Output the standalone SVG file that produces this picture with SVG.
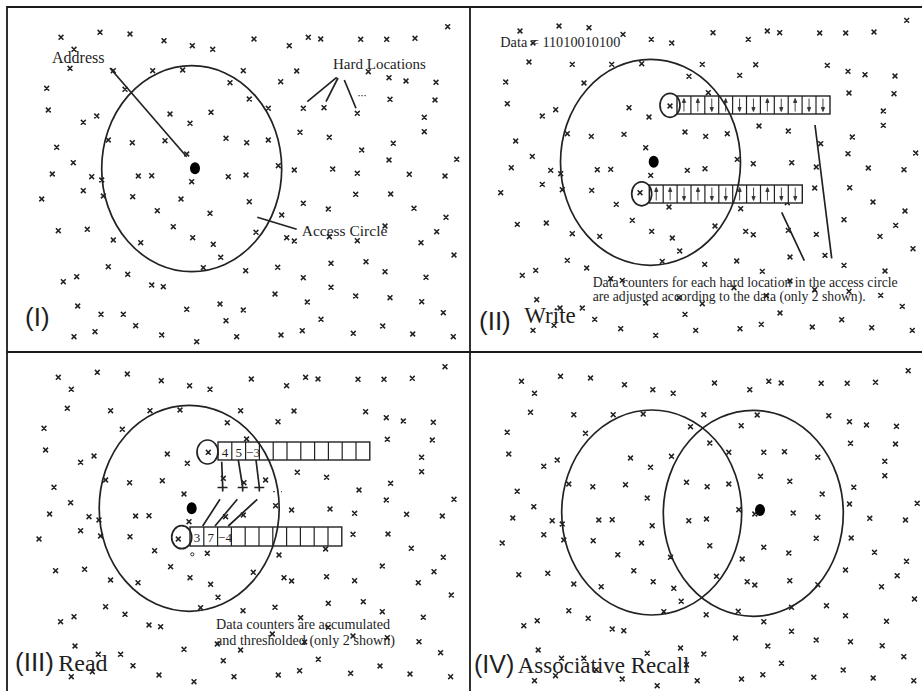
<svg xmlns="http://www.w3.org/2000/svg" xmlns:xlink="http://www.w3.org/1999/xlink" width="922" height="691" viewBox="0 0 922 691">
<style>
.ln{fill:none;stroke:#222;stroke-width:1.7}
.xs{fill:none;stroke:#222;stroke-width:1.5}
.bar{fill:#fff;stroke:#222;stroke-width:1.4}
.dv{fill:none;stroke:#222;stroke-width:1.2}
.frame{fill:none;stroke:#1a1a1a;stroke-width:1.8}
.dot{fill:#000}
.ar{stroke:#333;stroke-width:0.9;fill:#333}
.serif{font-family:"Liberation Serif","Times New Roman",serif;fill:#1e1e1e}
.sans{font-family:"Liberation Sans",Arial,sans-serif;fill:#1e1e1e}
</style>
<defs>
<path id="pts" class="xs" d="M61 37.3m-2.4-2.4l4.8 4.8m0-4.8l-4.8 4.8M100 32.3m-2.4-2.4l4.8 4.8m0-4.8l-4.8 4.8M130 34m-2.4-2.4l4.8 4.8m0-4.8l-4.8 4.8M164 40.7m-2.4-2.4l4.8 4.8m0-4.8l-4.8 4.8M192.3 45.7m-2.4-2.4l4.8 4.8m0-4.8l-4.8 4.8M212.7 49.3m-2.4-2.4l4.8 4.8m0-4.8l-4.8 4.8M254 39m-2.4-2.4l4.8 4.8m0-4.8l-4.8 4.8M289.3 45.7m-2.4-2.4l4.8 4.8m0-4.8l-4.8 4.8M308.3 37.3m-2.4-2.4l4.8 4.8m0-4.8l-4.8 4.8M320.7 39m-2.4-2.4l4.8 4.8m0-4.8l-4.8 4.8M360.7 39.3m-2.4-2.4l4.8 4.8m0-4.8l-4.8 4.8M386.7 39.3m-2.4-2.4l4.8 4.8m0-4.8l-4.8 4.8M415 38.3m-2.4-2.4l4.8 4.8m0-4.8l-4.8 4.8M447.7 26.7m-2.4-2.4l4.8 4.8m0-4.8l-4.8 4.8M74 49.3m-2.4-2.4l4.8 4.8m0-4.8l-4.8 4.8M70 68.3m-2.4-2.4l4.8 4.8m0-4.8l-4.8 4.8M113.3 70.7m-2.4-2.4l4.8 4.8m0-4.8l-4.8 4.8M152.7 70.7m-2.4-2.4l4.8 4.8m0-4.8l-4.8 4.8M182.7 70m-2.4-2.4l4.8 4.8m0-4.8l-4.8 4.8M243.3 70.7m-2.4-2.4l4.8 4.8m0-4.8l-4.8 4.8M296.7 71m-2.4-2.4l4.8 4.8m0-4.8l-4.8 4.8M368.3 71.7m-2.4-2.4l4.8 4.8m0-4.8l-4.8 4.8M389 77.7m-2.4-2.4l4.8 4.8m0-4.8l-4.8 4.8M406 81m-2.4-2.4l4.8 4.8m0-4.8l-4.8 4.8M436 82.3m-2.4-2.4l4.8 4.8m0-4.8l-4.8 4.8M46.7 88.3m-2.4-2.4l4.8 4.8m0-4.8l-4.8 4.8M125 89.3m-2.4-2.4l4.8 4.8m0-4.8l-4.8 4.8M230 82.7m-2.4-2.4l4.8 4.8m0-4.8l-4.8 4.8M280.7 81.7m-2.4-2.4l4.8 4.8m0-4.8l-4.8 4.8M48.3 110m-2.4-2.4l4.8 4.8m0-4.8l-4.8 4.8M83.3 122.3m-2.4-2.4l4.8 4.8m0-4.8l-4.8 4.8M96.7 116m-2.4-2.4l4.8 4.8m0-4.8l-4.8 4.8M170 114m-2.4-2.4l4.8 4.8m0-4.8l-4.8 4.8M190 123.3m-2.4-2.4l4.8 4.8m0-4.8l-4.8 4.8M211 112.3m-2.4-2.4l4.8 4.8m0-4.8l-4.8 4.8M249.3 99m-2.4-2.4l4.8 4.8m0-4.8l-4.8 4.8M268.3 108.3m-2.4-2.4l4.8 4.8m0-4.8l-4.8 4.8M303.3 108.3m-2.4-2.4l4.8 4.8m0-4.8l-4.8 4.8M324 107.7m-2.4-2.4l4.8 4.8m0-4.8l-4.8 4.8M357.3 113.3m-2.4-2.4l4.8 4.8m0-4.8l-4.8 4.8M390 99.3m-2.4-2.4l4.8 4.8m0-4.8l-4.8 4.8M435 100m-2.4-2.4l4.8 4.8m0-4.8l-4.8 4.8M424.3 117.3m-2.4-2.4l4.8 4.8m0-4.8l-4.8 4.8M424.3 131.7m-2.4-2.4l4.8 4.8m0-4.8l-4.8 4.8M56.7 147.3m-2.4-2.4l4.8 4.8m0-4.8l-4.8 4.8M108.3 140m-2.4-2.4l4.8 4.8m0-4.8l-4.8 4.8M132.3 142.7m-2.4-2.4l4.8 4.8m0-4.8l-4.8 4.8M165 140.7m-2.4-2.4l4.8 4.8m0-4.8l-4.8 4.8M226 138.3m-2.4-2.4l4.8 4.8m0-4.8l-4.8 4.8M246.7 142.7m-2.4-2.4l4.8 4.8m0-4.8l-4.8 4.8M268.3 140m-2.4-2.4l4.8 4.8m0-4.8l-4.8 4.8M300 132.3m-2.4-2.4l4.8 4.8m0-4.8l-4.8 4.8M329.3 137.3m-2.4-2.4l4.8 4.8m0-4.8l-4.8 4.8M361.7 150m-2.4-2.4l4.8 4.8m0-4.8l-4.8 4.8M393.3 143.3m-2.4-2.4l4.8 4.8m0-4.8l-4.8 4.8M73.3 162.7m-2.4-2.4l4.8 4.8m0-4.8l-4.8 4.8M186.7 154m-2.4-2.4l4.8 4.8m0-4.8l-4.8 4.8M278.3 165.7m-2.4-2.4l4.8 4.8m0-4.8l-4.8 4.8M294.3 170m-2.4-2.4l4.8 4.8m0-4.8l-4.8 4.8M332.7 169m-2.4-2.4l4.8 4.8m0-4.8l-4.8 4.8M389 160m-2.4-2.4l4.8 4.8m0-4.8l-4.8 4.8M456.7 159.3m-2.4-2.4l4.8 4.8m0-4.8l-4.8 4.8M52.3 174m-2.4-2.4l4.8 4.8m0-4.8l-4.8 4.8M91.7 176.7m-2.4-2.4l4.8 4.8m0-4.8l-4.8 4.8M101.7 180m-2.4-2.4l4.8 4.8m0-4.8l-4.8 4.8M138.3 176m-2.4-2.4l4.8 4.8m0-4.8l-4.8 4.8M151.7 175.7m-2.4-2.4l4.8 4.8m0-4.8l-4.8 4.8M191.7 181.7m-2.4-2.4l4.8 4.8m0-4.8l-4.8 4.8M228.3 176.7m-2.4-2.4l4.8 4.8m0-4.8l-4.8 4.8M246 175m-2.4-2.4l4.8 4.8m0-4.8l-4.8 4.8M357.3 173.3m-2.4-2.4l4.8 4.8m0-4.8l-4.8 4.8M409.3 174.3m-2.4-2.4l4.8 4.8m0-4.8l-4.8 4.8M445 176m-2.4-2.4l4.8 4.8m0-4.8l-4.8 4.8M41.7 199m-2.4-2.4l4.8 4.8m0-4.8l-4.8 4.8M83.3 190.7m-2.4-2.4l4.8 4.8m0-4.8l-4.8 4.8M103.3 196m-2.4-2.4l4.8 4.8m0-4.8l-4.8 4.8M132.7 196.7m-2.4-2.4l4.8 4.8m0-4.8l-4.8 4.8M181 199m-2.4-2.4l4.8 4.8m0-4.8l-4.8 4.8M249.3 201.7m-2.4-2.4l4.8 4.8m0-4.8l-4.8 4.8M355.7 194.3m-2.4-2.4l4.8 4.8m0-4.8l-4.8 4.8M390.7 194m-2.4-2.4l4.8 4.8m0-4.8l-4.8 4.8M157.3 210.7m-2.4-2.4l4.8 4.8m0-4.8l-4.8 4.8M210 213.3m-2.4-2.4l4.8 4.8m0-4.8l-4.8 4.8M281.7 215m-2.4-2.4l4.8 4.8m0-4.8l-4.8 4.8M303.3 203.3m-2.4-2.4l4.8 4.8m0-4.8l-4.8 4.8M328.3 209m-2.4-2.4l4.8 4.8m0-4.8l-4.8 4.8M414 208.3m-2.4-2.4l4.8 4.8m0-4.8l-4.8 4.8M446 217.3m-2.4-2.4l4.8 4.8m0-4.8l-4.8 4.8M58.3 230.7m-2.4-2.4l4.8 4.8m0-4.8l-4.8 4.8M87.3 229.3m-2.4-2.4l4.8 4.8m0-4.8l-4.8 4.8M173.3 226.7m-2.4-2.4l4.8 4.8m0-4.8l-4.8 4.8M192.7 237.7m-2.4-2.4l4.8 4.8m0-4.8l-4.8 4.8M213.3 244.3m-2.4-2.4l4.8 4.8m0-4.8l-4.8 4.8M256 232.3m-2.4-2.4l4.8 4.8m0-4.8l-4.8 4.8M286.7 237.7m-2.4-2.4l4.8 4.8m0-4.8l-4.8 4.8M294.3 241m-2.4-2.4l4.8 4.8m0-4.8l-4.8 4.8M329.3 236.7m-2.4-2.4l4.8 4.8m0-4.8l-4.8 4.8M357.3 240.7m-2.4-2.4l4.8 4.8m0-4.8l-4.8 4.8M385 226m-2.4-2.4l4.8 4.8m0-4.8l-4.8 4.8M421 242.7m-2.4-2.4l4.8 4.8m0-4.8l-4.8 4.8M436.7 231.7m-2.4-2.4l4.8 4.8m0-4.8l-4.8 4.8M113.3 240m-2.4-2.4l4.8 4.8m0-4.8l-4.8 4.8M140.7 242.7m-2.4-2.4l4.8 4.8m0-4.8l-4.8 4.8M220.7 257.3m-2.4-2.4l4.8 4.8m0-4.8l-4.8 4.8M454 255m-2.4-2.4l4.8 4.8m0-4.8l-4.8 4.8M108.3 266.7m-2.4-2.4l4.8 4.8m0-4.8l-4.8 4.8M127.7 274.3m-2.4-2.4l4.8 4.8m0-4.8l-4.8 4.8M203.3 267.7m-2.4-2.4l4.8 4.8m0-4.8l-4.8 4.8M245.7 270.7m-2.4-2.4l4.8 4.8m0-4.8l-4.8 4.8M277.7 267.3m-2.4-2.4l4.8 4.8m0-4.8l-4.8 4.8M331 263.3m-2.4-2.4l4.8 4.8m0-4.8l-4.8 4.8M366 261.7m-2.4-2.4l4.8 4.8m0-4.8l-4.8 4.8M385 271.7m-2.4-2.4l4.8 4.8m0-4.8l-4.8 4.8M426 277.3m-2.4-2.4l4.8 4.8m0-4.8l-4.8 4.8M63.3 281.7m-2.4-2.4l4.8 4.8m0-4.8l-4.8 4.8M76.7 276.7m-2.4-2.4l4.8 4.8m0-4.8l-4.8 4.8M151.7 285m-2.4-2.4l4.8 4.8m0-4.8l-4.8 4.8M163.3 286.7m-2.4-2.4l4.8 4.8m0-4.8l-4.8 4.8M303.3 277.7m-2.4-2.4l4.8 4.8m0-4.8l-4.8 4.8M331 287.3m-2.4-2.4l4.8 4.8m0-4.8l-4.8 4.8M275 294m-2.4-2.4l4.8 4.8m0-4.8l-4.8 4.8M355.7 296m-2.4-2.4l4.8 4.8m0-4.8l-4.8 4.8M390 297.7m-2.4-2.4l4.8 4.8m0-4.8l-4.8 4.8M421.7 301.7m-2.4-2.4l4.8 4.8m0-4.8l-4.8 4.8M307.3 302m-2.4-2.4l4.8 4.8m0-4.8l-4.8 4.8M77.7 306m-2.4-2.4l4.8 4.8m0-4.8l-4.8 4.8M101 314.3m-2.4-2.4l4.8 4.8m0-4.8l-4.8 4.8M123.3 314.3m-2.4-2.4l4.8 4.8m0-4.8l-4.8 4.8M135.7 325.7m-2.4-2.4l4.8 4.8m0-4.8l-4.8 4.8M186.7 309.3m-2.4-2.4l4.8 4.8m0-4.8l-4.8 4.8M220 304m-2.4-2.4l4.8 4.8m0-4.8l-4.8 4.8M243.3 310m-2.4-2.4l4.8 4.8m0-4.8l-4.8 4.8M226 320.7m-2.4-2.4l4.8 4.8m0-4.8l-4.8 4.8M321 319.3m-2.4-2.4l4.8 4.8m0-4.8l-4.8 4.8M443.3 312.7m-2.4-2.4l4.8 4.8m0-4.8l-4.8 4.8M74 336.7m-2.4-2.4l4.8 4.8m0-4.8l-4.8 4.8M95 331.7m-2.4-2.4l4.8 4.8m0-4.8l-4.8 4.8M161.7 335m-2.4-2.4l4.8 4.8m0-4.8l-4.8 4.8M196.7 341.7m-2.4-2.4l4.8 4.8m0-4.8l-4.8 4.8M236.7 336.7m-2.4-2.4l4.8 4.8m0-4.8l-4.8 4.8M281 335m-2.4-2.4l4.8 4.8m0-4.8l-4.8 4.8M302.3 330.7m-2.4-2.4l4.8 4.8m0-4.8l-4.8 4.8M353.3 333.3m-2.4-2.4l4.8 4.8m0-4.8l-4.8 4.8M382.7 326m-2.4-2.4l4.8 4.8m0-4.8l-4.8 4.8M412.7 334m-2.4-2.4l4.8 4.8m0-4.8l-4.8 4.8M453.3 336.7m-2.4-2.4l4.8 4.8m0-4.8l-4.8 4.8"/>
<g id="au"><path class="ar" d="M0 6.5V-3"/><path class="ar" d="M-1.6-2.5L0-6.5L1.6-2.5Z"/></g>
<g id="ad"><path class="ar" d="M0-6.5V3"/><path class="ar" d="M-1.6 2.5L0 6.5L1.6 2.5Z"/></g>
<clipPath id="c1"><rect x="7" y="7" width="463" height="345"/></clipPath>
<clipPath id="c2"><rect x="470" y="7" width="452" height="345"/></clipPath>
<clipPath id="c3"><rect x="7" y="352" width="463" height="339"/></clipPath>
<clipPath id="c4"><rect x="470" y="352" width="452" height="339"/></clipPath>
</defs>
<rect width="922" height="691" fill="#fff"/>

<g id="scatter">
<g clip-path="url(#c1)"><use xlink:href="#pts" href="#pts"/></g>
<g clip-path="url(#c2)"><use xlink:href="#pts" href="#pts" transform="translate(459,-6.3)"/></g>
<g clip-path="url(#c3)"><use xlink:href="#pts" href="#pts" transform="translate(-2.7,340)"/></g>
<g clip-path="url(#c4)"><use xlink:href="#pts" href="#pts" transform="translate(460.5,344)"/></g>
</g>

<g id="frame"><path class="frame" d="M7 691V7H922M470 7V691M7 352H922"/></g>

<g id="panel-1">
<ellipse class="ln" cx="191.7" cy="168.7" rx="90" ry="103"/>
<ellipse class="dot" cx="195" cy="168.3" rx="5" ry="6"/>
<text class="serif" x="52" y="63" font-size="16">Address</text>
<text class="serif" x="333" y="69" font-size="15">Hard Locations</text>
<text class="serif" x="301.7" y="235.7" font-size="15.5">Access Circle</text>
<text class="sans" x="25" y="326" font-size="26">(I)</text>
</g>

<g id="panel-2">
<rect class="bar" x="677" y="96" width="153" height="18"/>
<path class="dv" d="M690.9 96v18M704.8 96v18M718.7 96v18M732.6 96v18M746.5 96v18M760.4 96v18M774.3 96v18M788.2 96v18M802.1 96v18M816 96v18"/>
<use href="#au" x="683.95" y="105"/><use href="#au" x="697.85" y="105"/><use href="#ad" x="711.75" y="105"/><use href="#au" x="725.65" y="105"/><use href="#ad" x="739.55" y="105"/><use href="#ad" x="753.45" y="105"/><use href="#au" x="767.35" y="105"/><use href="#ad" x="781.25" y="105"/><use href="#au" x="795.15" y="105"/><use href="#ad" x="809.05" y="105"/><use href="#ad" x="822.95" y="105"/>
<ellipse class="ln" cx="670" cy="105.3" rx="10" ry="12"/>
<rect class="bar" x="649.3" y="185" width="153" height="18"/>
<path class="dv" d="M663.2 185v18M677.1 185v18M691 185v18M704.9 185v18M718.8 185v18M732.7 185v18M746.6 185v18M760.5 185v18M774.4 185v18M788.3 185v18"/>
<use href="#au" x="656.25" y="194"/><use href="#au" x="670.15" y="194"/><use href="#ad" x="684.05" y="194"/><use href="#au" x="697.95" y="194"/><use href="#ad" x="711.85" y="194"/><use href="#ad" x="725.75" y="194"/><use href="#au" x="739.65" y="194"/><use href="#ad" x="753.55" y="194"/><use href="#au" x="767.45" y="194"/><use href="#ad" x="781.35" y="194"/><use href="#ad" x="795.25" y="194"/>
<ellipse class="ln" cx="641.7" cy="193.8" rx="10" ry="12"/>
<ellipse class="ln" cx="650.5" cy="162.3" rx="90" ry="103"/>
<ellipse class="dot" cx="653.7" cy="161.7" rx="5" ry="6"/>
<text class="serif" x="500.3" y="46.7" font-size="14" textLength="120" lengthAdjust="spacingAndGlyphs">Data = 11010010100</text>
<text class="serif" x="592.7" y="286.7" font-size="14" textLength="305" lengthAdjust="spacingAndGlyphs">Data counters for each hard location in the access circle</text>
<text class="serif" x="592.7" y="301" font-size="14" textLength="273" lengthAdjust="spacingAndGlyphs">are adjusted according to the data (only 2 shown).</text>
<text class="sans" x="479" y="330" font-size="26">(II)</text>
<text class="serif" x="524.3" y="322.7" font-size="23">Write</text>
</g>

<g id="panel-3">
<rect class="bar" x="218" y="442" width="151.8" height="18"/>
<path class="dv" d="M231.8 442v18M245.6 442v18M259.4 442v18M273.2 442v18M287 442v18M300.8 442v18M314.6 442v18M328.4 442v18M342.2 442v18M356 442v18"/>
<ellipse class="ln" cx="207.5" cy="452" rx="10.5" ry="12"/>
<rect class="bar" x="190" y="527" width="151.8" height="19"/>
<path class="dv" d="M203.8 527v19M217.6 527v19M231.4 527v19M245.2 527v19M259 527v19M272.8 527v19M286.6 527v19M300.4 527v19M314.2 527v19M328 527v19"/>
<ellipse class="ln" cx="181.7" cy="537.2" rx="10" ry="11.5"/>
<g class="serif" font-size="13" text-anchor="middle">
<text x="224.9" y="456.5">4</text><text x="238.7" y="456.5">5</text><text x="253" y="456.5">−3</text>
<text x="196.9" y="541.5">3</text><text x="210.7" y="541.5">7</text><text x="225" y="541.5">−4</text>
</g>
<ellipse class="ln" cx="189.2" cy="508.3" rx="90" ry="103"/>
<ellipse class="dot" cx="191.7" cy="508.3" rx="5" ry="6"/>
<circle cx="192.3" cy="554.3" r="1.6" fill="none" stroke="#333" stroke-width="1"/>
<text class="serif" x="216" y="629.3" font-size="14" textLength="174" lengthAdjust="spacingAndGlyphs">Data counters are accumulated</text>
<text class="serif" x="216" y="645" font-size="14" textLength="179" lengthAdjust="spacingAndGlyphs">and thresholded (only 2 shown)</text>
<text class="sans" x="15" y="671" font-size="26">(III)</text>
<text class="serif" x="58.3" y="671" font-size="24">Read</text>
</g>

<g id="panel-4">
<ellipse class="ln" cx="651.7" cy="512.5" rx="90" ry="102.5"/>
<ellipse class="ln" cx="753.3" cy="513.3" rx="90" ry="103"/>
<ellipse class="dot" cx="760" cy="510" rx="5" ry="6"/>
<text class="sans" x="474" y="673" font-size="25">(IV)</text>
<text class="serif" x="517.7" y="673" font-size="23">Associative Recall</text>
</g>

<g id="connectors">
<path class="ln" d="M110 68L186.7 156.7"/>
<path class="ln" d="M336.7 77.3L307.3 101.7M338 78L326 101.7M344.3 80L356 108.3"/>
<path d="M358.3 95.7H366" stroke="#333" stroke-width="1" stroke-dasharray="1.5 1.5"/>
<path class="ln" d="M257.3 217.3L296.7 229.3"/>
<path class="ln" d="M815 125L831.7 258.3M781.7 212.3L804.3 260.7"/>
<path class="ln" d="M221.7 461.7L222.7 487M238.3 460L242.7 487M256 460L259.3 487"/>
<path class="ln" d="M217.5 487.5h10M222.7 487.5v4M237.7 487.5h10M242.7 487.5v4M254.3 487.5h10M259.3 487.5v4"/>
<path class="ln" d="M202.7 526L220 499.3M215 526L237.3 499.3M228.3 526L257.3 499.3"/>
<path d="M273 491.7H282" stroke="#333" stroke-width="1" stroke-dasharray="2 2"/>
</g>
</svg>
